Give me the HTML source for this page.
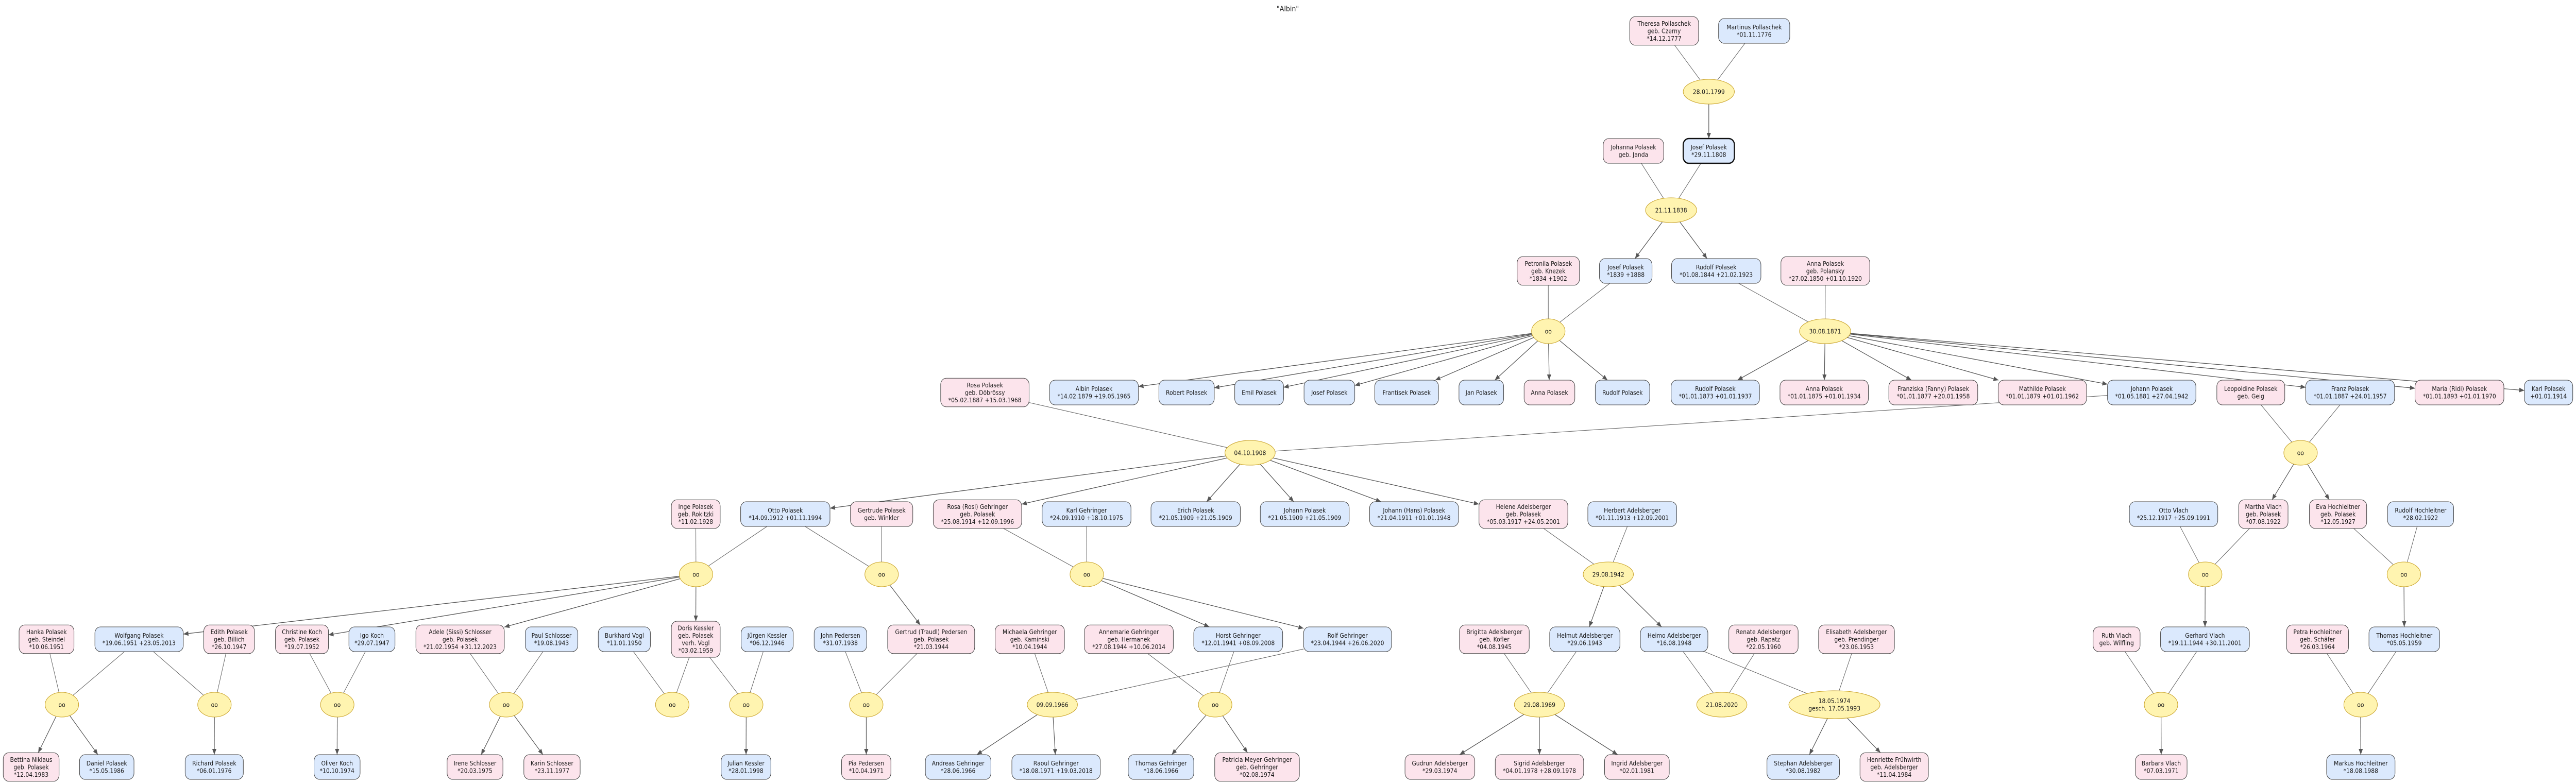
<!DOCTYPE html>
<html><head><meta charset="utf-8">
<style>
html,body{margin:0;padding:0;background:#fff;width:100%;height:100%;overflow:hidden;}
svg{position:absolute;left:0;top:0;width:100vw;height:100vh;display:block;font-family:"DejaVu Sans","Liberation Sans",sans-serif;overflow:hidden;}
</style></head>
<body>
<svg id="s" xmlns="http://www.w3.org/2000/svg" viewBox="0 0 5537 1522" preserveAspectRatio="none">
<defs>
<marker id="ar" markerUnits="userSpaceOnUse" markerWidth="12" markerHeight="10" refX="11" refY="4.5" orient="auto">
<path d="M0,0 L11,4.5 L0,9 z" fill="#555"/>
</marker>
</defs>
<text x="2768" y="22" font-size="14" text-anchor="middle" fill="#222">"Albin"</text>
<g id="edges"></g>
<g id="nodes"></g>
</svg>
<script>
var N={};
var A=60,B=293,C=526,D=762,E=998,F=1241,G=1489;
function P(id,x1,x2,cy,lines,sex,bold){var h=Math.max(48,lines.length*14.5+12);N[id]={x1:x1,x2:x2,cx:(x1+x2)/2,cy:cy,w:(x2-x1)/2,h:h/2,lines:lines,sex:sex,bold:bold,type:'b'};}
P('Theresa',3503,3651,A,["Theresa Pollaschek","geb. Czerny","*14.12.1777"],'f');
P('Martinus',3694,3847,A,["Martinus Pollaschek","*01.11.1776"],'m');
P('Johanna',3446,3576,B,["Johanna Polasek","geb. Janda"],'f');
P('JosefS',3618,3728,B,["Josef Polasek","*29.11.1808"],'m',1);
P('Petronila',3261,3395,C,["Petronila Polasek","geb. Knezek","*1834  +1902"],'f');
P('Josef1839',3438,3551,C,["Josef Polasek","*1839  +1888"],'m');
P('Rudolf1844',3593,3785,C,["Rudolf Polasek","*01.08.1844  +21.02.1923"],'m');
P('AnnaP',3828,4019,C,["Anna Polasek","geb. Polansky","*27.02.1850  +01.10.1920"],'f');
P('RosaD',2022,2212,D,["Rosa Polasek","geb. Döbrössy","*05.02.1887  +15.03.1968"],'f');
P('Albin',2256,2447,D,["Albin Polasek","*14.02.1879  +19.05.1965"],'m');
P('Robert',2491,2610,D,["Robert Polasek"],'m');
P('Emil',2654,2759,D,["Emil Polasek"],'m');
P('JosefD',2803,2912,D,["Josef Polasek"],'m');
P('Frantisek',2955,3092,D,["Frantisek Polasek"],'m');
P('Jan',3136,3232,D,["Jan Polasek"],'m');
P('AnnaD',3276,3385,D,["Anna Polasek"],'f');
P('RudolfD',3429,3546,D,["Rudolf Polasek"],'m');
P('Rudolf1873',3592,3782,D,["Rudolf Polasek","*01.01.1873  +01.01.1937"],'m');
P('Anna1875',3826,4016,D,["Anna Polasek","*01.01.1875  +01.01.1934"],'f');
P('Franziska',4060,4251,D,["Franziska (Fanny) Polasek","*01.01.1877  +20.01.1958"],'f');
P('Mathilde',4295,4485,D,["Mathilde Polasek","*01.01.1879  +01.01.1962"],'f');
P('Johann1881',4530,4720,D,["Johann Polasek","*01.05.1881  +27.04.1942"],'m');
P('Leopoldine',4765,4911,D,["Leopoldine Polasek","geb. Geig"],'f');
P('Franz',4956,5147,D,["Franz Polasek","*01.01.1887  +24.01.1957"],'m');
P('Maria',5191,5382,D,["Maria (Ridi) Polasek","*01.01.1893  +01.01.1970"],'f');
P('Karl',5426,5530,D,["Karl Polasek","+01.01.1914"],'m');
P('Inge',1443,1548,E,["Inge Polasek","geb. Rokitzki","*11.02.1928"],'f');
P('Otto',1592,1784,E,["Otto Polasek","*14.09.1912  +01.11.1994"],'m');
P('Gertrude',1828,1962,E,["Gertrude Polasek","geb. Winkler"],'f');
P('Rosi',2006,2196,E,["Rosa (Rosi) Gehringer","geb. Polasek","*25.08.1914  +12.09.1996"],'f');
P('KarlG',2240,2431,E,["Karl Gehringer","*24.09.1910  +18.10.1975"],'m');
P('Erich',2474,2666,E,["Erich Polasek","*21.05.1909  +21.05.1909"],'m');
P('Johann1909',2709,2900,E,["Johann Polasek","*21.05.1909  +21.05.1909"],'m');
P('Hans',2944,3135,E,["Johann (Hans) Polasek","*21.04.1911  +01.01.1948"],'m');
P('Helene',3179,3370,E,["Helene Adelsberger","geb. Polasek","*05.03.1917  +24.05.2001"],'f');
P('Herbert',3413,3604,E,["Herbert Adelsberger","*01.11.1913  +12.09.2001"],'m');
P('OttoV',4577,4767,E,["Otto Vlach","*25.12.1917  +25.09.1991"],'m');
P('Martha',4812,4918,E,["Martha Vlach","geb. Polasek","*07.08.1922"],'f');
P('Eva',4964,5087,E,["Eva Hochleitner","geb. Polasek","*12.05.1927"],'f');
P('RudolfH',5132,5274,E,["Rudolf Hochleitner","*28.02.1922"],'m');
P('Hanka',41,159,F,["Hanka Polasek","geb. Steindel","*10.06.1951"],'f');
P('Wolfgang',204,394,F,["Wolfgang Polasek","*19.06.1951  +23.05.2013"],'m');
P('Edith',438,547,F,["Edith Polasek","geb. Billich","*26.10.1947"],'f');
P('Christine',592,706,F,["Christine Koch","geb. Polasek","*19.07.1952"],'f');
P('Igo',750,849,F,["Igo Koch","*29.07.1947"],'m');
P('Adele',894,1084,F,["Adele (Sissi) Schlosser","geb. Polasek","*21.02.1954  +31.12.2023"],'f');
P('Paul',1129,1242,F,["Paul Schlosser","*19.08.1943"],'m');
P('Burkhard',1286,1398,F,["Burkhard Vogl","*11.01.1950"],'m');
P('Doris',1443,1548,F,["Doris Kessler","geb. Polasek","verh. Vogl","*03.02.1959"],'f');
P('Juergen',1593,1705,F,["Jürgen Kessler","*06.12.1946"],'m');
P('John',1750,1863,F,["John Pedersen","*31.07.1938"],'m');
P('Gertrud',1908,2095,F,["Gertrud (Traudl) Pedersen","geb. Polasek","*21.03.1944"],'f');
P('Michaela',2139,2288,F,["Michaela Gehringer","geb. Kaminski","*10.04.1944"],'f');
P('Annemarie',2331,2522,F,["Annemarie Gehringer","geb. Hermanek","*27.08.1944  +10.06.2014"],'f');
P('Horst',2566,2757,F,["Horst Gehringer","*12.01.1941  +08.09.2008"],'m');
P('Rolf',2802,2991,F,["Rolf Gehringer","*23.04.1944  +26.06.2020"],'m');
P('Brigitta',3137,3287,F,["Brigitta Adelsberger","geb. Kofler","*04.08.1945"],'f');
P('Helmut',3331,3482,F,["Helmut Adelsberger","*29.06.1943"],'m');
P('Heimo',3526,3671,F,["Heimo Adelsberger","*16.08.1948"],'m');
P('Renate',3716,3865,F,["Renate Adelsberger","geb. Rapatz","*22.05.1960"],'f');
P('Elisabeth',3909,4072,F,["Elisabeth Adelsberger","geb. Prendinger","*23.06.1953"],'f');
P('Ruth',4499,4600,F,["Ruth Vlach","geb. Wilfling"],'f');
P('Gerhard',4644,4835,F,["Gerhard Vlach","*19.11.1944  +30.11.2001"],'m');
P('Petra',4915,5048,F,["Petra Hochleitner","geb. Schäfer","*26.03.1964"],'f');
P('ThomasH',5092,5244,F,["Thomas Hochleitner","*05.05.1959"],'m');
P('Bettina',7,127,G,["Bettina Niklaus","geb. Polasek","*12.04.1983"],'f');
P('Daniel',171,288,G,["Daniel Polasek","*15.05.1986"],'m');
P('Richard',398,523,G,["Richard Polasek","*06.01.1976"],'m');
P('Oliver',675,774,G,["Oliver Koch","*10.10.1974"],'m');
P('Irene',961,1081,G,["Irene Schlosser","*20.03.1975"],'f');
P('Karin',1126,1247,G,["Karin Schlosser","*23.11.1977"],'f');
P('Julian',1550,1657,G,["Julian Kessler","*28.01.1998"],'m');
P('Pia',1809,1915,G,["Pia Pedersen","*10.04.1971"],'f');
P('Andreas',1989,2130,G,["Andreas Gehringer","*28.06.1966"],'m');
P('Raoul',2175,2365,G,["Raoul Gehringer","*18.08.1971  +19.03.2018"],'m');
P('ThomasG',2425,2566,G,["Thomas Gehringer","*18.06.1966"],'m');
P('Patricia',2611,2793,G,["Patricia Meyer-Gehringer","geb. Gehringer","*02.08.1974"],'f');
P('Gudrun',3020,3170,G,["Gudrun Adelsberger","*29.03.1974"],'f');
P('Sigrid',3214,3404,G,["Sigrid Adelsberger","*04.01.1978  +28.09.1978"],'f');
P('Ingrid',3449,3588,G,["Ingrid Adelsberger","*02.01.1981"],'f');
P('Stephan',3798,3954,G,["Stephan Adelsberger","*30.08.1982"],'m');
P('Henriette',3998,4145,G,["Henriette Frühwirth","geb. Adelsberger","*11.04.1984"],'f');
P('Barbara',4590,4701,G,["Barbara Vlach","*07.03.1971"],'f');
P('Markus',5001,5148,G,["Markus Hochleitner","*18.08.1988"],'m');

var FAM=[];
function Fm(cx,cy,rx,ry,lab,par,ch){FAM.push({cx:cx,cy:cy,rx:rx,ry:ry,lab:lab,par:par,ch:ch,type:'e'});}
var O=["oo"];
Fm(3673,178,55,24,["28.01.1799"],['Theresa','Martinus'],['JosefS']);
Fm(3592,408,55,24,["21.11.1838"],['Johanna','JosefS'],['Josef1839','Rudolf1844']);
Fm(3328,643,36,24,O,['Petronila','Josef1839'],['Albin','Robert','Emil','JosefD','Frantisek','Jan','AnnaD','RudolfD']);
Fm(3923,643,55,24,["30.08.1871"],['Rudolf1844','AnnaP'],['Rudolf1873','Anna1875','Franziska','Mathilde','Johann1881','Franz','Maria','Karl']);
Fm(2687,879,54,24,["04.10.1908"],['RosaD','Johann1881'],['Otto','Rosi','Erich','Johann1909','Hans','Helene']);
Fm(4945,879,36,24,O,['Leopoldine','Franz'],['Martha','Eva']);
Fm(1496,1115,36,24,O,['Inge','Otto'],['Wolfgang','Christine','Adele','Doris']);
Fm(1895,1115,36,24,O,['Otto','Gertrude'],['Gertrud']);
Fm(2336,1115,36,24,O,['Rosi','KarlG'],['Horst','Rolf']);
Fm(3457,1115,54,24,["29.08.1942"],['Helene','Herbert'],['Helmut','Heimo']);
Fm(4740,1115,36,24,O,['OttoV','Martha'],['Gerhard']);
Fm(5167,1115,36,24,O,['Eva','RudolfH'],['ThomasH']);
Fm(133,1368,36,24,O,['Hanka','Wolfgang'],['Bettina','Daniel']);
Fm(461,1368,36,24,O,['Wolfgang','Edith'],['Richard']);
Fm(725,1368,36,24,O,['Christine','Igo'],['Oliver']);
Fm(1088,1368,36,24,O,['Adele','Paul'],['Irene','Karin']);
Fm(1445,1368,36,24,O,['Burkhard','Doris'],[]);
Fm(1604,1368,36,24,O,['Doris','Juergen'],['Julian']);
Fm(1862,1368,36,24,O,['John','Gertrud'],['Pia']);
Fm(2262,1368,54,24,["09.09.1966"],['Michaela','Rolf'],['Andreas','Raoul']);
Fm(2612,1368,36,24,O,['Annemarie','Horst'],['ThomasG','Patricia']);
Fm(3309,1368,54,24,["29.08.1969"],['Brigitta','Helmut'],['Gudrun','Sigrid','Ingrid']);
Fm(3701,1368,54,24,["21.08.2020"],['Heimo','Renate'],[]);
Fm(3943,1368,98,27,["18.05.1974","gesch. 17.05.1993"],['Heimo','Elisabeth'],['Stephan','Henriette']);
Fm(4645,1368,36,24,O,['Ruth','Gerhard'],['Barbara']);
Fm(5074,1368,36,24,O,['Petra','ThomasH'],['Markus']);

function clip(n,tx,ty){
  var dx=tx-n.cx,dy=ty-n.cy,t;
  if(n.type==='e'){t=1/Math.sqrt((dx/n.rx)*(dx/n.rx)+(dy/n.ry)*(dy/n.ry));}
  else{t=Math.min(dx?n.w/Math.abs(dx):1e9,dy?n.h/Math.abs(dy):1e9);}
  return [n.cx+dx*t,n.cy+dy*t];
}
var NS="http://www.w3.org/2000/svg";
var eg=document.getElementById('edges'),ng=document.getElementById('nodes');
function el(tag,attrs,parent){var e=document.createElementNS(NS,tag);for(var k in attrs)e.setAttribute(k,attrs[k]);parent.appendChild(e);return e;}
function line(a,b,arrow){
  var p=clip(a,b.cx,b.cy),q=clip(b,a.cx,a.cy);
  var at={x1:p[0].toFixed(1),y1:p[1].toFixed(1),x2:q[0].toFixed(1),y2:q[1].toFixed(1),stroke:arrow?'#555':'#666','stroke-width':arrow?1.3:1.1};
  if(arrow)at['marker-end']='url(#ar)';
  el('line',at,eg);
}
FAM.forEach(function(f){
  f.par.forEach(function(p){line(N[p],f,false);});
  f.ch.forEach(function(c){line(f,N[c],true);});
});
function texts(lines,cx,cy,parent){
  var lh=14.5,y0=cy-(lines.length-1)*lh/2+4.3;
  lines.forEach(function(s,i){var t=el('text',{x:cx,y:(y0+i*lh).toFixed(1),'font-size':12,'text-anchor':'middle',fill:'#1a1a1a'},parent);t.textContent=s;});
}
for(var id in N){
  var n=N[id];
  el('rect',{x:n.x1,y:n.cy-n.h,width:n.x2-n.x1,height:2*n.h,rx:12,ry:12,fill:n.sex==='f'?'#fce4ec':'#dbe9fd',stroke:n.bold?'#111':'#444','stroke-width':n.bold?2.6:1.1},ng);
  texts(n.lines,n.cx,n.cy,ng);
}
FAM.forEach(function(f){
  el('ellipse',{cx:f.cx,cy:f.cy,rx:f.rx,ry:f.ry,fill:'#fff4b0',stroke:'#c9a227','stroke-width':1.1},ng);
  texts(f.lab,f.cx,f.cy,ng);
});
</script>
</body></html>
